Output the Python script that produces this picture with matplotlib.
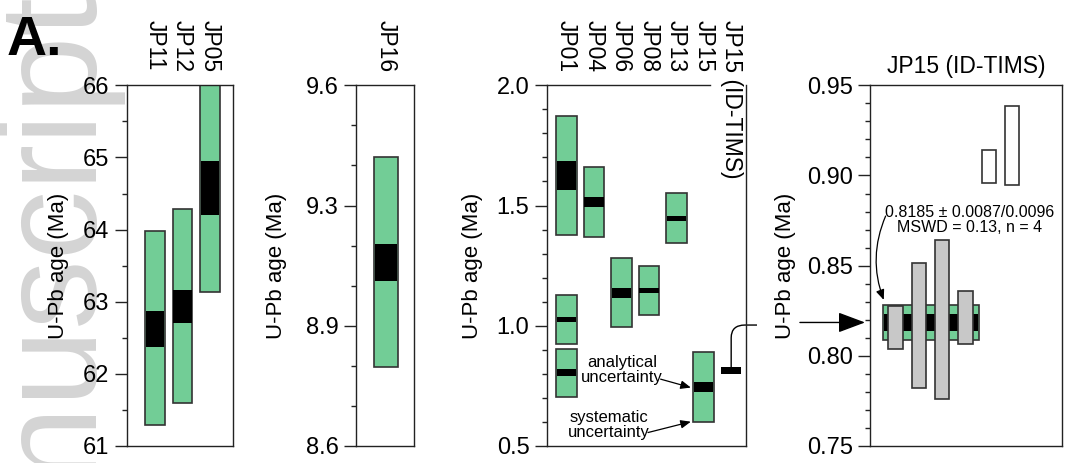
import numpy as np
import matplotlib
matplotlib.use('Agg')
import matplotlib.pyplot as plt
import matplotlib.transforms as mtransforms
from matplotlib.path import Path
from matplotlib.patches import PathPatch
from matplotlib.ticker import MultipleLocator, FixedLocator, FormatStrFormatter

plt.rcParams.update({'font.family': ['Liberation Sans', 'DejaVu Sans'], 'font.size': 16})

# ---- data (Ma) ----
# panel 1: Paleocene samples
p1_names = ['JP11', 'JP12', 'JP05']
p1_sys_lo = [61.29, 61.59, 63.14]
p1_sys_hi = [63.98, 64.28, 66.40]
p1_ana_lo = [62.375, 62.71, 64.20]
p1_ana_hi = [62.87, 63.16, 64.95]

# panel 2
p2_names = ['JP16']
p2_sys_lo = [8.82]
p2_sys_hi = [9.40]
p2_ana_lo = [9.058]
p2_ana_hi = [9.159]

# panel 3: young samples (JP01 has three age populations)
p3_names = ['JP01', 'JP04', 'JP06', 'JP08', 'JP13', 'JP15', 'JP15 (ID-TIMS)']
p3_bar_sample = ['JP01', 'JP01', 'JP01', 'JP04', 'JP06', 'JP08', 'JP13', 'JP15']
p3_sys_lo = [1.378, 0.923, 0.705, 1.368, 0.994, 1.044, 1.343, 0.601]
p3_sys_hi = [1.874, 1.129, 0.905, 1.662, 1.281, 1.250, 1.553, 0.890]
p3_ana_lo = [1.565, 1.016, 0.793, 1.494, 1.117, 1.135, 1.437, 0.725]
p3_ana_hi = [1.685, 1.035, 0.819, 1.536, 1.157, 1.157, 1.457, 0.766]
tims_lo, tims_hi = 0.801, 0.828

# panel 4: ID-TIMS single grains
grain_lo = [0.8036, 0.7820, 0.7759, 0.8067]
grain_hi = [0.8278, 0.8513, 0.8642, 0.8361]
excl_lo = [0.8958, 0.8945]
excl_hi = [0.9143, 0.9387]
mean_age = 0.8185
mean_err_in = 0.0045
mean_err_sys = 0.0096

green = '#72cd96'
edge = '#333333'
W, H = 1067, 463
BOT, TOP = 446, 85.3

fig = plt.figure(figsize=(W / 100, H / 100), dpi=100)


def add_ax(left, right):
    return fig.add_axes([left / W, (H - BOT) / H, (right - left) / W, (BOT - TOP) / H])


def style(ax, label_x):
    for s in ax.spines.values():
        s.set_linewidth(1.0)
        s.set_color('#222222')
    ax.set_xticks([])
    ax.tick_params(axis='y', which='major', length=8.4, width=1, pad=4, labelsize=17, color='#222222')
    ax.tick_params(axis='y', which='minor', length=3.6, width=1, color='#222222')
    ax.set_ylabel('U-Pb age (Ma)', fontsize=16)
    tr = mtransforms.blended_transform_factory(fig.transFigure, ax.transAxes)
    ax.yaxis.set_label_coords(label_x / W, 0.5, transform=tr)


def col_labels(ax, pos, names):
    ytop = 1 + (TOP - 20) / (BOT - TOP)
    for x, n in zip(pos, names):
        ax.text(x, ytop, n, rotation=-90, ha='center', va='top', fontsize=16.5,
                transform=ax.get_xaxis_transform(), clip_on=False)


def draw_bars(ax, pos, sys_lo, sys_hi, ana_lo, ana_hi, width):
    sys_lo, sys_hi = np.array(sys_lo), np.array(sys_hi)
    ana_lo, ana_hi = np.array(ana_lo), np.array(ana_hi)
    ax.bar(pos, sys_hi - sys_lo, bottom=sys_lo, width=width, color=green,
           edgecolor=edge, linewidth=1.2, zorder=2)
    ax.bar(pos, ana_hi - ana_lo, bottom=ana_lo, width=width - 0.04, color='black',
           linewidth=0, zorder=3)


# ---- panel 1 ----
ax1 = add_ax(126.7, 233)
pos1 = np.arange(1, len(p1_names) + 1)
draw_bars(ax1, pos1, p1_sys_lo, p1_sys_hi, p1_ana_lo, p1_ana_hi, 0.71)
ax1.set_xlim(-0.03, 3.84)
ax1.set_ylim(61, 66)
ax1.yaxis.set_major_locator(MultipleLocator(1))
ax1.yaxis.set_minor_locator(MultipleLocator(0.5))
style(ax1, 69)
col_labels(ax1, pos1, p1_names)

# ---- panel 2 ----
ax2 = add_ax(356, 414.3)
pos2 = [1]
draw_bars(ax2, pos2, p2_sys_lo, p2_sys_hi, p2_ana_lo, p2_ana_hi, 0.7)
ax2.set_xlim(0.12, 1.82)
ax2.set_ylim(8.6, 9.6)
ax2.yaxis.set_major_locator(FixedLocator(np.linspace(8.6, 9.6, 4)))
ax2.yaxis.set_minor_locator(FixedLocator(np.linspace(8.6, 9.6, 10)))
ax2.yaxis.set_major_formatter(FormatStrFormatter('%.1f'))
style(ax2, 287)
col_labels(ax2, pos2, p2_names)

# ---- panel 3 ----
ax3 = add_ax(546.7, 746)
pos3 = np.arange(1, len(p3_names) + 1)
bar_pos3 = [p3_names.index(s) + 1 for s in p3_bar_sample]
draw_bars(ax3, bar_pos3, p3_sys_lo, p3_sys_hi, p3_ana_lo, p3_ana_hi, 0.75)
ax3.bar(pos3[-1], tims_hi - tims_lo, bottom=tims_lo, width=0.75, color='black', zorder=3)
ax3.set_xlim(0.28, 7.54)
ax3.set_ylim(0.5, 2.0)
ax3.yaxis.set_major_locator(MultipleLocator(0.5))
ax3.yaxis.set_minor_locator(MultipleLocator(0.1))
ax3.yaxis.set_major_formatter(FormatStrFormatter('%.1f'))
style(ax3, 483)
ax3.spines['top'].set_bounds(0.28, 6.22)
col_labels(ax3, pos3, p3_names)

ax3.text(3.03, 0.816, 'analytical\nuncertainty', fontsize=12, ha='center', va='center', linespacing=1.0)
ax3.text(2.54, 0.589, 'systematic\nuncertainty', fontsize=12, ha='center', va='center', linespacing=1.0)
arr = dict(arrowstyle='-|>,head_length=0.6,head_width=0.25', mutation_scale=10, lw=0.9,
           color='k', shrinkA=0, shrinkB=0)
ax3.annotate('', xy=(5.53, 0.743), xytext=(4.43, 0.778), arrowprops=arr)
ax3.annotate('', xy=(5.53, 0.601), xytext=(3.97, 0.556), arrowprops=arr)

# connector from the ID-TIMS bar to panel 4
conn = Path([(7, tims_hi), (7, 0.95), (7, 1.003), (7.5, 1.003), (7.94, 1.003)],
            [Path.MOVETO, Path.LINETO, Path.CURVE3, Path.CURVE3, Path.LINETO])
ax3.add_patch(PathPatch(conn, fill=False, lw=1.0, color='k', clip_on=False, transform=ax3.transData))

# ---- panel 4 ----
ax4 = add_ax(870, 1062)
gpos = np.arange(1, len(grain_lo) + 1)
epos = np.arange(len(grain_lo) + 1, len(grain_lo) + len(excl_lo) + 1)
band_l, band_r = gpos[0] - 0.54, gpos[-1] + 0.57
ax4.bar((band_l + band_r) / 2, 2 * mean_err_sys, bottom=mean_age - mean_err_sys,
        width=band_r - band_l, color=green, edgecolor=edge, linewidth=1.2, zorder=2)
ax4.bar((band_l + band_r) / 2, 2 * mean_err_in, bottom=mean_age - mean_err_in,
        width=band_r - band_l - 0.04, color='black', linewidth=0, zorder=3)
ax4.bar(gpos, np.array(grain_hi) - np.array(grain_lo), bottom=grain_lo, width=0.62,
        color='#c8c8c8', edgecolor=edge, linewidth=1.2, zorder=4)
ax4.bar(epos, np.array(excl_hi) - np.array(excl_lo), bottom=excl_lo, width=0.6,
        color='white', edgecolor=edge, linewidth=1.2, zorder=4)
ax4.set_xlim(-0.1, 8.14)
ax4.set_ylim(0.75, 0.95)
ax4.yaxis.set_major_locator(MultipleLocator(0.05))
ax4.yaxis.set_minor_locator(MultipleLocator(0.01))
ax4.yaxis.set_major_formatter(FormatStrFormatter('%.2f'))
style(ax4, 796)
ax4.set_title('JP15 (ID-TIMS)', fontsize=16.5, pad=9)

ax4.text(4.16, 0.8754, '%.4f ± 0.0087/%.4f\nMSWD = 0.13, n = 4' % (mean_age, mean_err_sys),
         fontsize=11.5, ha='center', va='center', linespacing=1.0)
ax4.annotate('', xy=(0.49, 0.831), xytext=(0.57, 0.8775),
             arrowprops=dict(arrowstyle='-|>,head_length=0.6,head_width=0.25', mutation_scale=10,
                             lw=0.9, color='k', shrinkA=0, shrinkB=0,
                             connectionstyle='arc3,rad=0.2'))
ytr = ax4.get_yaxis_transform()
ax4.annotate('', xy=(-0.026, mean_age), xycoords=ytr, xytext=(-0.365, mean_age), textcoords=ytr,
             annotation_clip=False,
             arrowprops=dict(arrowstyle='-|>,head_length=1.2,head_width=0.45', mutation_scale=14,
                             lw=1.0, color='k', shrinkA=0, shrinkB=0))

# ---- panel letter and watermark ----
fig.text(7 / W, 1 - 55 / H, 'A.', fontsize=40, fontweight='bold', ha='left', va='baseline')
fig.text(97 / W, 1 + 3 / H, 'Accepted manuscript', rotation=90, rotation_mode='anchor',
         ha='right', va='baseline', fontsize=100, color='#d4d4d4', zorder=-1)

fig.savefig('out.png', dpi=100)
